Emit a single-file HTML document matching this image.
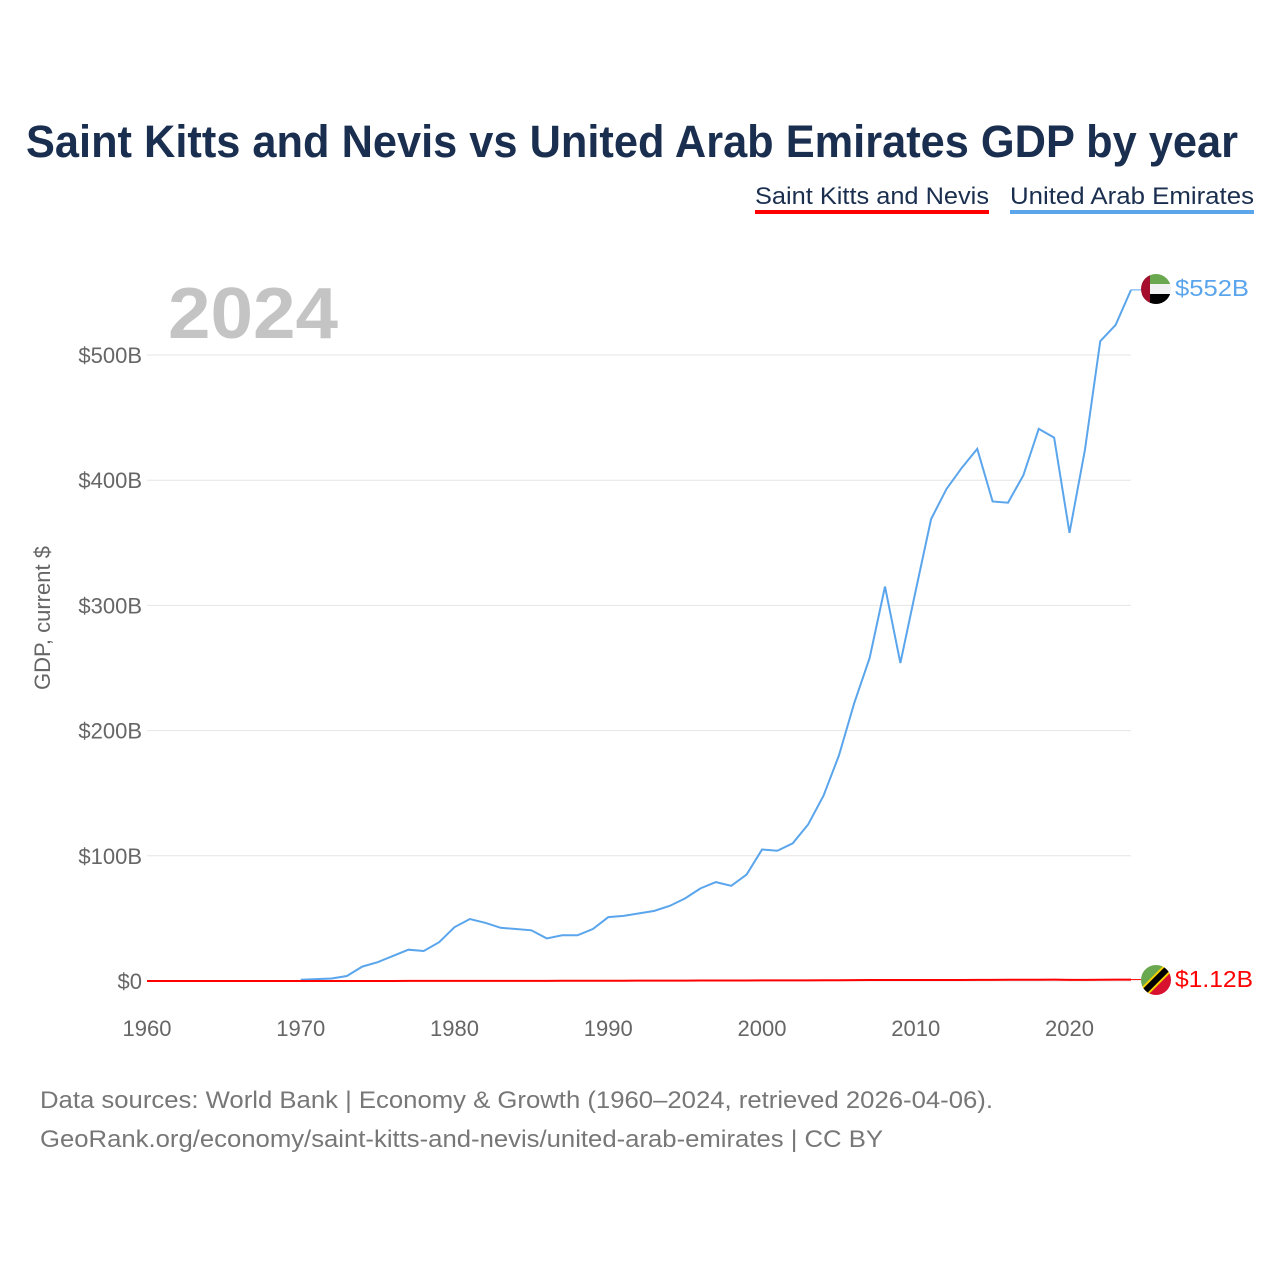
<!DOCTYPE html>
<html><head><meta charset="utf-8"><style>
body{margin:0;background:#fff;font-family:"Liberation Sans",sans-serif;}
svg{display:block}
</style></head><body>
<svg id="chart" width="1280" height="1280">
<text x="26" y="157" textLength="1212" lengthAdjust="spacingAndGlyphs" font-size="45" font-weight="bold" fill="#1a2e4f">Saint Kitts and Nevis vs United Arab Emirates GDP by year</text>
<g><text x="755" y="204" textLength="234" lengthAdjust="spacingAndGlyphs" font-size="24" fill="#1a2e4f">Saint Kitts and Nevis</text><rect x="755" y="210" width="234" height="4" fill="#ff0000"/></g>
<g><text x="1010" y="204" textLength="244" lengthAdjust="spacingAndGlyphs" font-size="24" fill="#1a2e4f">United Arab Emirates</text><rect x="1010" y="210" width="244" height="4" fill="#5aa5ec"/></g>
<text x="168" y="338" textLength="170" lengthAdjust="spacingAndGlyphs" font-size="72" font-weight="bold" fill="#c4c4c4">2024</text>
<text transform="translate(50,618) rotate(-90)" text-anchor="middle" font-size="22" fill="#666">GDP, current $</text>
<g id="grid"></g><g id="xt"></g><g id="lines"></g>
<g>
<clipPath id="c1"><circle cx="1156" cy="289" r="15"/></clipPath>
<g clip-path="url(#c1)"><rect x="1141" y="274" width="30" height="10" fill="#6aa84f"/><rect x="1141" y="284" width="30" height="10" fill="#f2f2f2"/><rect x="1141" y="294" width="30" height="10" fill="#000"/><rect x="1141" y="274" width="9" height="30" fill="#a50e2d"/></g></g>
<g>
<clipPath id="c2"><circle cx="1156" cy="980" r="15"/></clipPath>
<g clip-path="url(#c2)"><polygon points="1141,965 1171,965 1141,995" fill="#6aa84f"/><polygon points="1171,965 1171,995 1141,995" fill="#d8112e"/><line x1="1139" y1="997" x2="1173" y2="963" stroke="#f5d000" stroke-width="10"/><line x1="1139" y1="997" x2="1173" y2="963" stroke="#000" stroke-width="6"/></g></g>
<text x="1175" y="296" textLength="74" lengthAdjust="spacingAndGlyphs" font-size="23" fill="#5aa5ec">$552B</text>
<text x="1175" y="987" textLength="78" lengthAdjust="spacingAndGlyphs" font-size="23" fill="#ff0000">$1.12B</text>
<text x="40" y="1108" textLength="953" lengthAdjust="spacingAndGlyphs" font-size="24" fill="#777">Data sources: World Bank | Economy &amp; Growth (1960–2024, retrieved 2026-04-06).</text>
<text x="40" y="1147" textLength="843" lengthAdjust="spacingAndGlyphs" font-size="24" fill="#777">GeoRank.org/economy/saint-kitts-and-nevis/united-arab-emirates | CC BY</text>
</svg>
<script>
const uaeYears=[1970,1971,1972,1973,1974,1975,1976,1977,1978,1979,1980,1981,1982,1983,1984,1985,1986,1987,1988,1989,1990,1991,1992,1993,1994,1995,1996,1997,1998,1999,2000,2001,2002,2003,2004,2005,2006,2007,2008,2009,2010,2011,2012,2013,2014,2015,2016,2017,2018,2019,2020,2021,2022,2023,2024];
const uaeGDP=[1,1.5,2,4,11.5,15,20,25,24,31,43,49.5,46.5,42.5,41.5,40.5,34,36.5,36.5,41.5,51,52,54,56,60,66,74,79,76,85,105,104,110,125,148,180,222,258,315,254,312,369,393,410,425,383,382,404,441,434,358,424,511,524,552];
const sknStart=1960;
const sknGDP=[0.01,0.01,0.01,0.01,0.01,0.01,0.01,0.01,0.01,0.02,0.02,0.02,0.02,0.03,0.03,0.04,0.04,0.05,0.06,0.07,0.08,0.09,0.1,0.1,0.11,0.12,0.14,0.16,0.18,0.2,0.22,0.24,0.26,0.29,0.31,0.33,0.36,0.4,0.42,0.44,0.48,0.5,0.52,0.54,0.58,0.64,0.73,0.79,0.82,0.76,0.78,0.8,0.77,0.8,0.88,0.93,0.96,0.98,1.0,1.05,0.92,0.9,1.0,1.08,1.12];
const yTicks=[0,100,200,300,400,500];
const xTicks=[1960,1970,1980,1990,2000,2010,2020];
const NS='http://www.w3.org/2000/svg';
const X=y=>147+(y-1960)*(1131-147)/64;
const Y=v=>981-v*(981-355)/500;
function mk(t,a,p){const e=document.createElementNS(NS,t);for(const k in a)e.setAttribute(k,a[k]);p.appendChild(e);return e;}
const grid=document.getElementById('grid');
yTicks.forEach(v=>{
 const l=mk('line',{x1:147,x2:1131,y1:Y(v),y2:Y(v),stroke:'#e6e6e6','stroke-width':1},grid);
 
 
 const t=mk('text',{x:142,y:Y(v)+8,'text-anchor':'end','font-size':22,fill:'#666'},grid);
 t.textContent=v===0?'$0':'$'+v+'B';
 
 
});
const xt=document.getElementById('xt');
xTicks.forEach(v=>{
 const t=mk('text',{x:X(v),y:1036,'text-anchor':'middle','font-size':22,fill:'#666'},xt);
 t.textContent=v;
 
 
});
const lines=document.getElementById('lines');
const pu=mk('polyline',{points:uaeYears.map((y,i)=>X(y)+','+Y(uaeGDP[i])).join(' '),fill:'none',stroke:'#5aa5ec','stroke-width':2},lines);


const ps=mk('polyline',{points:sknGDP.map((v,i)=>X(sknStart+i)+','+Y(v)).join(' '),fill:'none',stroke:'#ff0000','stroke-width':2},lines);


const c1=mk('line',{x1:X(2024),x2:1141,y1:Y(552),y2:Y(552),stroke:'#5aa5ec','stroke-width':1},lines);


const c2=mk('line',{x1:X(2024),x2:1141,y1:Y(1.12),y2:Y(1.12),stroke:'#ff0000','stroke-width':1},lines);


</script>
</body></html>
